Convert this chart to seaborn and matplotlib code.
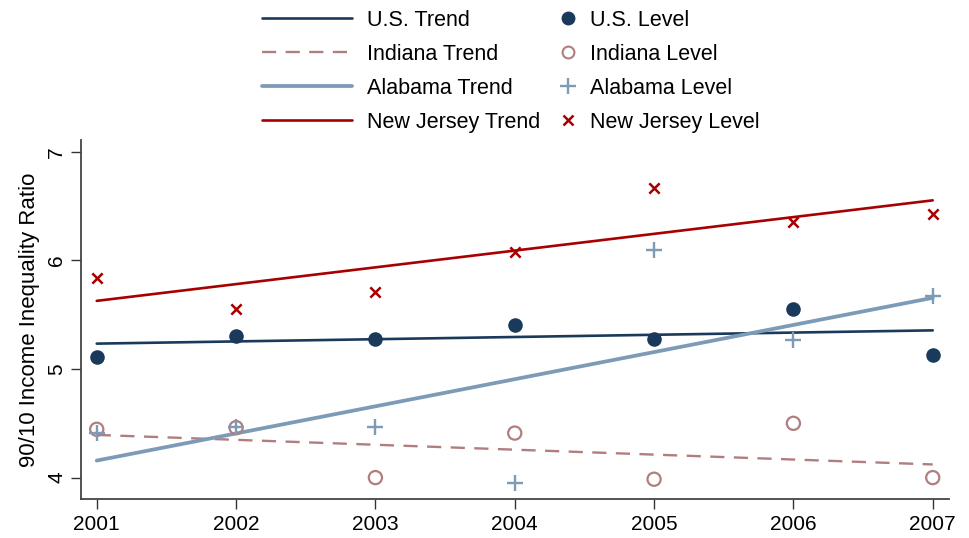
import numpy as np
import pandas as pd
import matplotlib
matplotlib.use("Agg")
import matplotlib.pyplot as plt
from matplotlib.lines import Line2D
import seaborn as sns

# values
years = [2001, 2002, 2003, 2004, 2005, 2006, 2007]
us = [5.11, 5.30, 5.28, 5.41, 5.28, 5.555, 5.13]
indiana = [4.445, 4.46, 4.00, 4.41, 3.985, 4.50, 4.00]
alabama = [4.415, 4.47, 4.47, 3.95, 6.10, 5.27, 5.67]
new_jersey = [5.84, 5.555, 5.71, 6.08, 6.67, 6.35, 6.43]

states = ["U.S.", "Indiana", "Alabama", "New Jersey"]
levels = [us, indiana, alabama, new_jersey]

df = pd.DataFrame({"year": years * 4,
                   "state": np.repeat(states, len(years)),
                   "ratio": np.concatenate(levels)})

colors = {"U.S.": "#1a3a5c", "Indiana": "#b07e7e",
          "Alabama": "#7d9ab6", "New Jersey": "#a80000"}
trend_lw = {"U.S.": 1.9, "Indiana": 1.7, "Alabama": 2.7, "New Jersey": 1.9}
trend_ls = {"U.S.": "-", "Indiana": (0, (6, 4)), "Alabama": "-", "New Jersey": "-"}

sns.set_style("ticks")
plt.rcParams["font.family"] = ["Liberation Sans", "DejaVu Sans"]
plt.rcParams["text.color"] = "black"
plt.rcParams["axes.labelcolor"] = "black"
plt.rcParams["xtick.labelcolor"] = "black"
plt.rcParams["ytick.labelcolor"] = "black"

fig = plt.figure(figsize=(9.69, 5.38), dpi=100)
ax = fig.add_axes([0.0833, 0.0719, 0.8961, 0.668])

# trend lines (OLS fits)
for st in states:
    d = df[df["state"] == st]
    sns.regplot(data=d, x="year", y="ratio", ax=ax, scatter=False, ci=None,
                line_kws=dict(color=colors[st], lw=trend_lw[st], ls=trend_ls[st]))

# level markers
d = df[df["state"] == "U.S."]
sns.scatterplot(data=d, x="year", y="ratio", ax=ax, color=colors["U.S."],
                marker="o", s=110, linewidth=0, zorder=3)
d = df[df["state"] == "Indiana"]
sns.scatterplot(data=d, x="year", y="ratio", ax=ax, marker="o", s=90,
                facecolor="none", edgecolor=colors["Indiana"], linewidth=1.6, zorder=3)
d = df[df["state"] == "Alabama"]
sns.scatterplot(data=d, x="year", y="ratio", ax=ax, color=colors["Alabama"],
                marker="+", s=130, linewidth=1.7, zorder=3)
d = df[df["state"] == "New Jersey"]
sns.scatterplot(data=d, x="year", y="ratio", ax=ax, color=colors["New Jersey"],
                marker="x", s=55, linewidth=1.8, zorder=3)

ax.set_xlim(2000.885, 2007.117)
ax.set_ylim(3.80, 7.11)
ax.set_xticks(years)
ax.set_yticks([4, 5, 6, 7])
ax.set_xlabel("")
ax.set_ylabel("90/10 Income Inequality Ratio", fontsize=16, labelpad=5)
ax.tick_params(axis="both", labelsize=15, length=7.5, width=1, color="#333333")
ax.tick_params(axis="x", pad=4)
ax.tick_params(axis="y", pad=3)
plt.setp(ax.get_yticklabels(), rotation=90, va="center")
for s in ["left", "bottom"]:
    ax.spines[s].set_color("#444444")
    ax.spines[s].set_linewidth(1.3)
sns.despine(ax=ax)

# legend: trends on the left, levels on the right
trend_handles = [Line2D([], [], color=colors[st], lw=trend_lw[st], ls=trend_ls[st])
                 for st in states]
level_handles = [
    Line2D([], [], ls="", marker="o", ms=10, color=colors["U.S."], mew=0),
    Line2D([], [], ls="", marker="o", ms=8.5, mfc="none", mec=colors["Indiana"], mew=1.5),
    Line2D([], [], ls="", marker="+", ms=11, color=colors["Alabama"], mew=1.7),
    Line2D([], [], ls="", marker="x", ms=7, color=colors["New Jersey"], mew=1.8),
]
fig.legend(trend_handles, [f"{st} Trend" for st in states], loc="upper left",
           bbox_to_anchor=(262 / 969, 1 - 10 / 538), frameon=False, fontsize=15.5,
           handlelength=4.2, handletextpad=0.7, borderpad=0, borderaxespad=0,
           labelspacing=0.6)
fig.legend(level_handles, [f"{st} Level" for st in states], loc="upper left",
           bbox_to_anchor=(557 / 969, 1 - 10 / 538), frameon=False, fontsize=15.5,
           handlelength=1.0, handletextpad=0.52, borderpad=0, borderaxespad=0,
           labelspacing=0.6)

fig.savefig("out.png", dpi=100)
